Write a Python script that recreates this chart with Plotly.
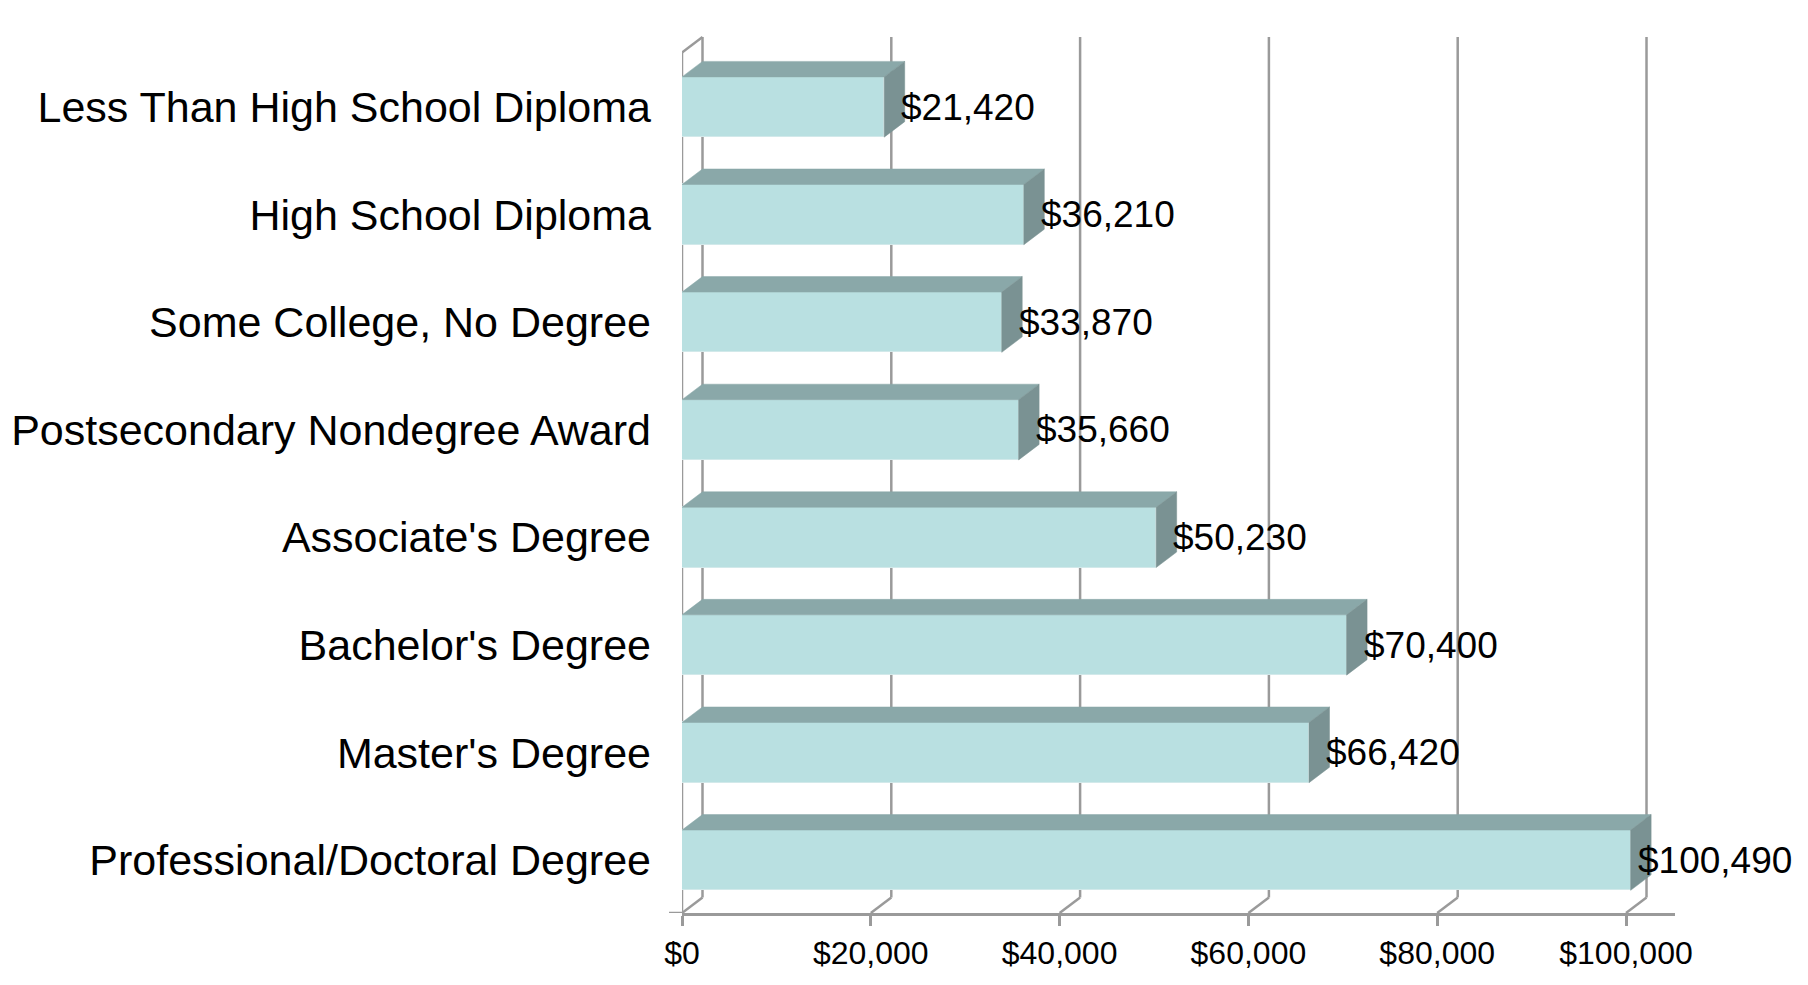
import plotly.graph_objects as go

categories = [
    "Less Than High School Diploma",
    "High School Diploma",
    "Some College, No Degree",
    "Postsecondary Nondegree Award",
    "Associate's Degree",
    "Bachelor's Degree",
    "Master's Degree",
    "Professional/Doctoral Degree",
]
values = [21420, 36210, 33870, 35660, 50230, 70400, 66420, 100490]
tick_values = [0, 20000, 40000, 60000, 80000, 100000]
tick_labels = ["$0", "$20,000", "$40,000", "$60,000", "$80,000", "$100,000"]

FONT = "Liberation Sans, Arial, sans-serif"
# page has an 8px body margin, so the figure is 8px smaller than the window
W, H = 1800, 977
ML, MR, MT, MB = 674, 133, 12, 72
X_MAX = 105190
Y_TOP, Y_BOTTOM = -0.8086, 7.4907

px_per_x = (W - ML - MR) / X_MAX
px_per_y = (H - MT - MB) / (Y_BOTTOM - Y_TOP)
DX = 20.5 / px_per_x          # depth offset in data units (x)
DY = 15.5 / px_per_y          # depth offset in data units (y)
BW = 0.56                     # bar thickness (category units)
BACK_TOP = -0.651
BACK_BOTTOM = Y_BOTTOM - DY

FRONT = "#B9E0E1"
TOP = "#8AA8A9"
SIDE = "#7A9293"
GRID = "#9A9A9A"

pos = list(range(len(categories)))

fig = go.Figure()

# front faces
fig.add_trace(go.Bar(
    y=pos, x=values, orientation="h", width=BW,
    marker=dict(color=FRONT, line=dict(color="#D2E9EA", width=1)),
    hoverinfo="skip", showlegend=False,
))

# top faces
tx, ty = [], []
for p, v in zip(pos, values):
    yt = p - BW / 2
    tx += [0, v, v + DX, DX, 0, None]
    ty += [yt, yt, yt - DY, yt - DY, yt, None]
fig.add_trace(go.Scatter(x=tx, y=ty, fill="toself", fillcolor=TOP, mode="lines",
                         line=dict(color=TOP, width=0.5), hoverinfo="skip", showlegend=False))

# side faces
sx, sy = [], []
for p, v in zip(pos, values):
    yt, yb = p - BW / 2, p + BW / 2
    sx += [v, v + DX, v + DX, v, v, None]
    sy += [yt, yt - DY, yb - DY, yb, yt, None]
fig.add_trace(go.Scatter(x=sx, y=sy, fill="toself", fillcolor=SIDE, mode="lines",
                         line=dict(color=SIDE, width=0.5), hoverinfo="skip", showlegend=False))

# gridlines on back wall + floor diagonals
shapes = []
for t in tick_values:
    shapes.append(dict(type="line", xref="x", yref="y", x0=t + DX, x1=t + DX, y0=BACK_TOP, y1=BACK_BOTTOM,
                       line=dict(color=GRID, width=2.5), layer="below"))
    shapes.append(dict(type="line", xref="x", yref="y", x0=t + DX, x1=t, y0=BACK_BOTTOM, y1=Y_BOTTOM,
                       line=dict(color=GRID, width=2.5), layer="below"))
# left wall front edge
shapes.append(dict(type="line", xref="x", yref="y", x0=0, x1=0, y0=Y_BOTTOM, y1=BACK_TOP + DY,
                   line=dict(color=GRID, width=2.5), layer="below"))
shapes.append(dict(type="line", xref="x", yref="y", x0=0, x1=DX, y0=BACK_TOP + DY, y1=BACK_TOP,
                   line=dict(color=GRID, width=2.5), layer="below"))
# small stub left of origin
shapes.append(dict(type="line", xref="paper", yref="y", x0=-13 / (W - ML - MR), x1=0, y0=Y_BOTTOM, y1=Y_BOTTOM,
                   line=dict(color=GRID, width=2.5), layer="below"))

annotations = []
for p, v in zip(pos, values):
    annotations.append(dict(x=v, y=p, xref="x", yref="y", text=f"${v:,}", showarrow=False,
                            xanchor="left", yanchor="middle", xshift=15 if v < 100000 else 5,
                            font=dict(family=FONT, size=37, color="#000000")))

fig.update_layout(
    width=W, height=H,
    margin=dict(l=ML, r=MR, t=MT, b=MB, autoexpand=False),
    paper_bgcolor="white", plot_bgcolor="white",
    shapes=shapes, annotations=annotations,
    bargap=0,
    xaxis=dict(range=[0, X_MAX], tickvals=tick_values, ticktext=tick_labels, automargin=False,
               showgrid=False, zeroline=False, showline=True, linecolor=GRID, linewidth=2.5,
               ticks="outside", ticklen=10, tickwidth=2.5, tickcolor=GRID,
               tickfont=dict(family=FONT, size=32, color="#000000"), fixedrange=True),
    yaxis=dict(range=[Y_BOTTOM, Y_TOP], tickvals=pos, ticktext=categories, automargin=False,
               showgrid=False, zeroline=False, showline=False, ticks="",
               ticklabelstandoff=30,
               tickfont=dict(family=FONT, size=43, color="#000000"), fixedrange=True),
)

fig.write_html("out.html")
